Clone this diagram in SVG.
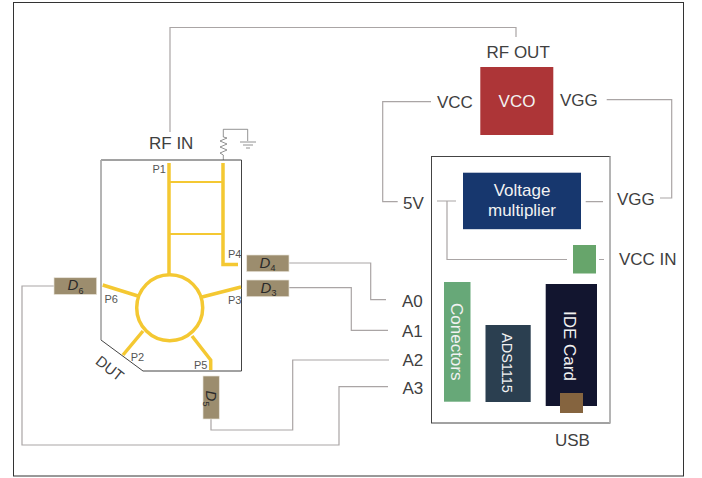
<svg xmlns="http://www.w3.org/2000/svg" width="702" height="478" viewBox="0 0 702 478">
<style>
text{font-family:"Liberation Sans",Arial,sans-serif;fill:#404040}
.l{font-size:17px}
.p{font-size:11px;fill:#555}
.w{fill:#f2f2f2}
.c{fill:none;stroke:#aaa5a5;stroke-width:1.200}
.g{fill:none;stroke:#777;stroke-width:.8}
.y{fill:none;stroke:#f4c832;stroke-width:3.500}
.y2{fill:none;stroke:#f4c832;stroke-width:2}
.d{fill:#9c8d6e;stroke:#e8e4da;stroke-width:.7}
.di{font-size:15px;font-style:italic;fill:#2a2a2a}
.ds{font-size:9px;fill:#2a2a2a}
</style>
<rect width="702" height="478" fill="#fff"/>
<rect x="13.500" y="2.500" width="670" height="473.500" fill="none" stroke="#333" stroke-width="1"/>
<g id="connectors">
<path class="c" d="M170 132V27.500H516V37"/>
<path class="c" d="M289 263H370.700V299.700H386"/>
<path class="c" d="M289 287.700H351.300V330.300H388"/>
<path class="c" d="M211 419V430H292.700V360H389"/>
<path class="c" d="M54 286H22V445H339V386.700H388"/>
<path class="c" d="M431 101.700H382.700V201.700H397.700"/>
<path class="c" d="M606.700 99.700H671.700V198H660"/>
<path class="c" d="M437 201H456M447 201V259.500H567"/>
<path class="c" stroke-width="1.500" d="M585.700 201.700H603M599 259.500H604"/>
<path class="g" d="M223.300 160V155L220 153L227 150L220 147L227 144L220 141L227 138L223.300 137V129.300H247.700V141M240 142H256M243 145H253M246 148H250"/>
</g>
<g id="dut">
<path d="M101 160H241.500V371H143L101 340Z" fill="none" stroke="#444" stroke-width="1"/>
<path d="M101 160V340" fill="none" stroke="#bbb" stroke-width="1.500"/>
<path class="y" d="M169 163V275M223 163V264.500H238"/>
<path class="y2" d="M169 182H223M169 234H223"/>
<circle class="y" cx="169.700" cy="307.700" r="33"/>
<path class="y" d="M102.700 285L138 296M241 287L202 297M123 355L143 331M192 336L210.700 360V370"/>
<text class="p" x="152.500" y="172.500">P1</text>
<text class="p" x="228" y="258">P4</text>
<text class="p" x="228" y="304">P3</text>
<text class="p" x="104.500" y="303">P6</text>
<text class="p" x="130.700" y="360.700">P2</text>
<text class="p" x="194" y="368.700">P5</text>
<text class="l" style="font-size:15px" transform="translate(94.500 363) rotate(38)">DUT</text>
<text class="l" x="149" y="149">RF IN</text>
</g>
<g id="d4"><rect class="d" x="246.700" y="255" width="42.300" height="16.700"/><text class="di" x="259.500" y="267.500">D</text><text class="ds" x="270.500" y="271">4</text></g>
<g id="d3"><rect class="d" x="246.700" y="280" width="42.300" height="16.700"/><text class="di" x="260.500" y="292.700">D</text><text class="ds" x="271.500" y="296">3</text></g>
<g id="d6"><rect class="d" x="54" y="277.700" width="42.700" height="16.800"/><text class="di" x="67.500" y="290">D</text><text class="ds" x="78.500" y="293.500">6</text></g>
<g id="d5"><rect class="d" x="203" y="376" width="16.300" height="43"/><g transform="translate(206 390.500) rotate(90)"><text class="di" x="0" y="0">D</text><text class="ds" x="11" y="3">5</text></g></g>
<g id="vco"><rect x="480.300" y="67" width="73" height="68" fill="#ad3537"/><text x="517" y="107" text-anchor="middle" class="l w">VCO</text>
<text class="l" x="486.500" y="58">RF OUT</text>
<text class="l" x="437" y="108">VCC</text>
<text class="l" x="560" y="106">VGG</text></g>
<g id="usb"><rect x="431.500" y="156.500" width="178.500" height="266.500" fill="none" stroke="#444"/><path d="M610 156.500V423" stroke="#bbb" stroke-width="1.500" fill="none"/>
<text class="l" x="555" y="445.500">USB</text></g>
<g id="vm"><rect x="463" y="172.700" width="118" height="56.500" fill="#17376e"/><text class="l w" x="522" y="196" text-anchor="middle">Voltage</text><text class="l w" x="522" y="215.700" text-anchor="middle">multiplier</text></g>
<g id="vccin"><rect x="573" y="245" width="23" height="28.500" fill="#67a56b"/><text class="l" x="619" y="265">VCC IN</text></g>
<g id="conectors"><rect x="444" y="282" width="26.500" height="119.700" fill="#67a878"/><text class="l w" transform="translate(450.500 303) rotate(90)">Conectors</text></g>
<g id="ads"><rect x="485.500" y="325" width="45.200" height="77" fill="#2b3f50"/><text class="l w" style="font-size:14.500px" transform="translate(502 333) rotate(90)">ADS1115</text></g>
<g id="ide"><rect x="545.700" y="284" width="51.300" height="122" fill="#12152f"/><rect x="560" y="393" width="23" height="20" fill="#85643f"/><text class="l w" transform="translate(564 311) rotate(90)">IDE Card</text></g>
<g id="labels">
<text class="l" x="403" y="209">5V</text>
<text class="l" x="617" y="205">VGG</text>
<text class="l" x="402" y="307">A0</text>
<text class="l" x="402" y="336.500">A1</text>
<text class="l" x="402.500" y="366">A2</text>
<text class="l" x="402.500" y="394">A3</text>
</g>
</svg>
